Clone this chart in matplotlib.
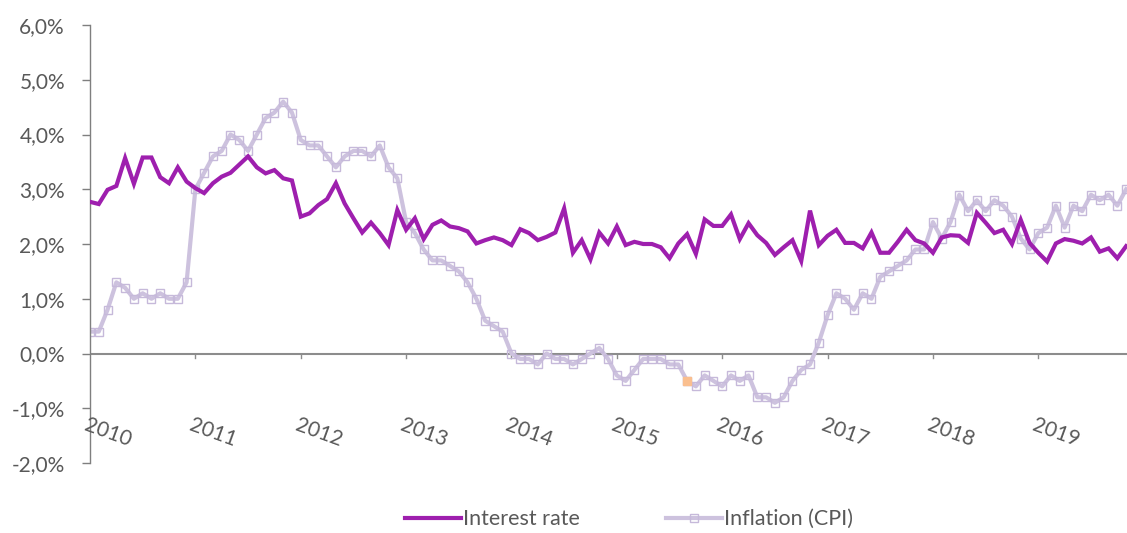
import matplotlib
matplotlib.use("Agg")
import matplotlib.pyplot as plt
from matplotlib.ticker import FuncFormatter

# Monthly data, Jan 2010 onwards (percent)
interest_rate = [
    2.77, 2.73, 2.99, 3.06, 3.57, 3.10, 3.58, 3.58, 3.22, 3.11, 3.40, 3.14,
    3.02, 2.93, 3.11, 3.23, 3.30, 3.45, 3.60, 3.40, 3.29, 3.35, 3.20, 3.16,
    2.50, 2.56, 2.71, 2.82, 3.11, 2.74, 2.47, 2.21, 2.39, 2.20, 1.98, 2.62,
    2.26, 2.47, 2.09, 2.35, 2.43, 2.32, 2.29, 2.23, 2.01, 2.07, 2.12, 2.07,
    1.98, 2.27, 2.20, 2.07, 2.13, 2.21, 2.65, 1.84, 2.07, 1.72, 2.21, 2.01,
    2.32, 1.98, 2.04, 2.00, 2.00, 1.94, 1.74, 2.01, 2.18, 1.82, 2.45, 2.33,
    2.33, 2.54, 2.09, 2.38, 2.16, 2.02, 1.80, 1.94, 2.07, 1.69, 2.61, 1.98,
    2.15, 2.26, 2.02, 2.02, 1.92, 2.21, 1.84, 1.84, 2.04, 2.26, 2.07, 2.01,
    1.84, 2.12, 2.16, 2.15, 2.02, 2.57, 2.39, 2.20, 2.26, 2.00, 2.44, 2.02,
    1.84, 1.68, 2.01, 2.09, 2.06, 2.01, 2.12, 1.86, 1.92, 1.74, 1.96,
]
inflation_cpi = [
    0.4, 0.4, 0.8, 1.3, 1.2, 1.0, 1.1, 1.0, 1.1, 1.0, 1.0, 1.3,
    3.0, 3.3, 3.6, 3.7, 4.0, 3.9, 3.7, 4.0, 4.3, 4.4, 4.6, 4.4,
    3.9, 3.8, 3.8, 3.6, 3.4, 3.6, 3.7, 3.7, 3.6, 3.8, 3.4, 3.2,
    2.4, 2.2, 1.9, 1.7, 1.7, 1.6, 1.5, 1.3, 1.0, 0.6, 0.5, 0.4,
    0.0, -0.1, -0.1, -0.2, 0.0, -0.1, -0.1, -0.2, -0.1, 0.0, 0.1, -0.1,
    -0.4, -0.5, -0.3, -0.1, -0.1, -0.1, -0.2, -0.2, -0.5, -0.6, -0.4, -0.5,
    -0.6, -0.4, -0.5, -0.4, -0.8, -0.8, -0.9, -0.8, -0.5, -0.3, -0.2, 0.2,
    0.7, 1.1, 1.0, 0.8, 1.1, 1.0, 1.4, 1.5, 1.6, 1.7, 1.9, 1.9,
    2.4, 2.1, 2.4, 2.9, 2.6, 2.8, 2.6, 2.8, 2.7, 2.5, 2.1, 1.9,
    2.2, 2.3, 2.7, 2.3, 2.7, 2.6, 2.9, 2.8, 2.9, 2.7, 3.0,
]
year_labels = ["2010", "2011", "2012", "2013", "2014", "2015",
               "2016", "2017", "2018", "2019"]
highlight_index = 68  # orange-marked point

months = list(range(len(interest_rate)))
year_positions = [12 * k for k in range(len(year_labels))]

plt.rcParams["font.family"] = ["Lato", "DejaVu Sans"]

c_int = "#9E1FAE"
c_inf = "#CDC2DE"
c_mark = "#C6B9DA"
grey = "#595959"

fig = plt.figure(figsize=(11.27, 5.33), dpi=100)
ax = fig.add_axes([90 / 1127, 70 / 533, 1 - 90 / 1127, 438 / 533])

ax.plot(months, interest_rate, color=c_int, lw=3.0, solid_joinstyle="miter",
        label="Interest rate", zorder=3)
ax.plot(months, inflation_cpi, color=c_inf, lw=3.0, marker="s", ms=5.5,
        mfc="none", mec=c_mark, mew=1.0, label="Inflation (CPI)", zorder=2)
ax.plot([months[highlight_index]], [inflation_cpi[highlight_index]], "s",
        ms=6, color="#FABF8F", zorder=4)

ax.set_ylim(-2, 6)
ax.set_xlim(0, 118.1)
ax.set_yticks(range(-2, 7))
ax.yaxis.set_major_formatter(FuncFormatter(lambda v, p: f"{v:.1f}%".replace(".", ",")))
ax.tick_params(axis="y", labelsize=15, labelcolor=grey, color="#7F7F7F",
               length=6, width=1, pad=12)

for s in ["top", "right", "bottom"]:
    ax.spines[s].set_visible(False)
ax.spines["left"].set_color("#7F7F7F")
ax.spines["left"].set_linewidth(1)

# x axis at zero
ax.axhline(0, color="#8C8C8C", lw=1.5, zorder=1)
ax.set_xticks([])
for xp, lab in zip(year_positions, year_labels):
    if xp > 0:
        ax.plot([xp, xp], [0, -0.09], color="#8C8C8C", lw=1, zorder=1)
    ax.text(xp - 0.2, -1.12, lab, rotation=-20, rotation_mode="anchor",
            ha="left", va="top", fontsize=15, color=grey)

leg = ax.legend(loc="center", bbox_to_anchor=(0.52, -0.128), ncol=2,
                frameon=False, fontsize=15.5, handlelength=2.6, handletextpad=0.1,
                columnspacing=4.0, borderpad=0.2)
for t in leg.get_texts():
    t.set_color(grey)

fig.savefig("out.png", dpi=100)
